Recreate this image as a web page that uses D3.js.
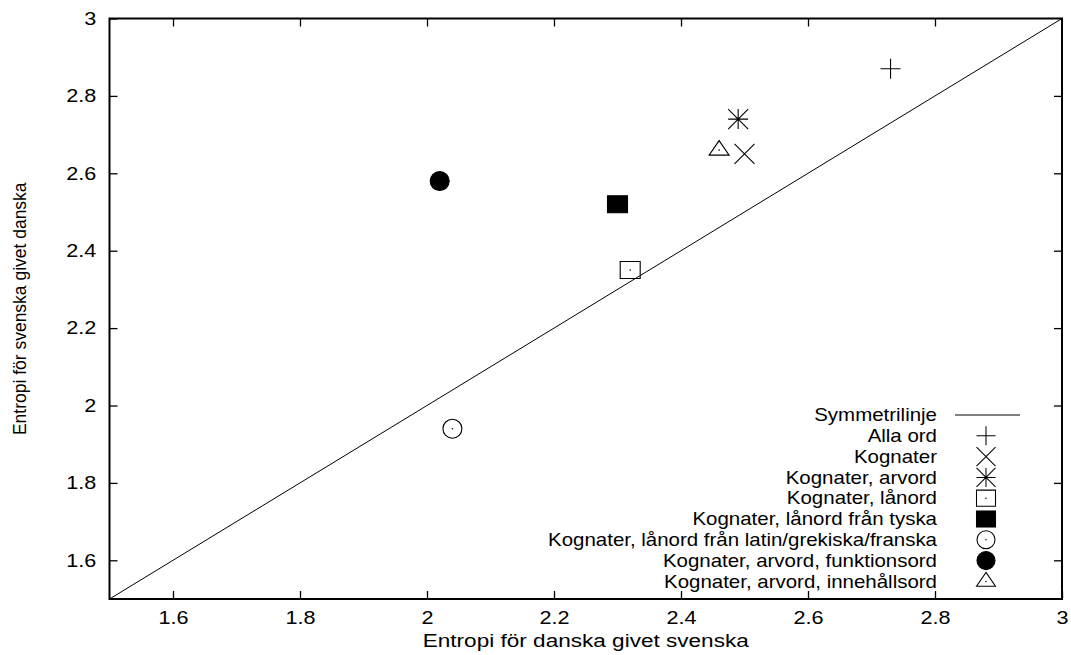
<!DOCTYPE html>
<html>
<head>
<meta charset="utf-8">
<script src="https://cdn.jsdelivr.net/npm/d3@7"></script>
<style>
  body { margin: 0; background: #fff; }
  text { font-family: "Liberation Sans", Arial, sans-serif; fill: #000; }
</style>
</head>
<body>
<div id="main"></div>
<script>
// data
var seriesNames = ['Alla ord', 'Kognater', 'Kognater, arvord', 'Kognater, lånord',
    'Kognater, lånord från tyska', 'Kognater, lånord från latin/grekiska/franska',
    'Kognater, arvord, funktionsord', 'Kognater, arvord, innehållsord'];
var xValues = [2.73, 2.50, 2.49, 2.32, 2.30, 2.04, 2.02, 2.46];
var yValues = [2.87, 2.65, 2.74, 2.35, 2.52, 1.94, 2.58, 2.66];
var markers = ['plus', 'times', 'star', 'square', 'squareFilled', 'circle', 'circleFilled', 'triangle'];
var tickValues = [1.6, 1.8, 2, 2.2, 2.4, 2.6, 2.8, 3];

var width = 1071, height = 655;
var margin = {left: 109.5, right: 9, top: 18.5, bottom: 56};
var stretch = 1.2; // the original text is a bit wider than it is tall

var svg = d3.select('#main').append('svg').attr('width', width).attr('height', height);

var x = d3.scaleLinear().domain([1.5, 3]).range([margin.left, width - margin.right]);
var y = d3.scaleLinear().domain([1.5, 3]).range([height - margin.bottom, margin.top]);

// symmetry line
svg.append('line')
    .attr('x1', x(1.5)).attr('y1', y(1.5))
    .attr('x2', x(3)).attr('y2', y(3))
    .attr('stroke', '#000').attr('stroke-width', 1);

// ticks, mirrored on all sides, pointing inward
var tl = 8;
svg.append('g').attr('transform', 'translate(0,' + y(1.5) + ')')
    .call(d3.axisBottom(x).tickValues(tickValues).tickSizeInner(-tl).tickSizeOuter(0).tickPadding(12).tickFormat(d3.format('')))
    .call(g => g.select('.domain').remove())
    .call(g => g.selectAll('text').attr('font-size', 18).attr('transform', 'scale(' + stretch + ',1)'));
svg.append('g').attr('transform', 'translate(0,' + y(3) + ')')
    .call(d3.axisTop(x).tickValues(tickValues.slice(0, -1)).tickSizeInner(-tl).tickSizeOuter(0).tickFormat(''))
    .call(g => g.select('.domain').remove());
svg.append('g').attr('transform', 'translate(' + x(1.5) + ',0)')
    .call(d3.axisLeft(y).tickValues(tickValues).tickSizeInner(-tl).tickSizeOuter(0).tickPadding(11).tickFormat(d3.format('')))
    .call(g => g.select('.domain').remove())
    .call(g => g.selectAll('text').attr('font-size', 18).attr('transform', 'scale(' + stretch + ',1)'));
svg.append('g').attr('transform', 'translate(' + x(3) + ',0)')
    .call(d3.axisRight(y).tickValues(tickValues.slice(0, -1)).tickSizeInner(-tl).tickSizeOuter(0).tickFormat(''))
    .call(g => g.select('.domain').remove());
svg.selectAll('.tick line').attr('stroke-width', 1.3);

// frame
svg.append('rect')
    .attr('x', x(1.5)).attr('y', y(3))
    .attr('width', x(3) - x(1.5)).attr('height', y(1.5) - y(3))
    .attr('fill', 'none').attr('stroke', '#000').attr('stroke-width', 2);

// axis titles
svg.append('text')
    .attr('transform', 'translate(' + ((x(1.5) + x(3)) / 2) + ',647) scale(1.22,1)')
    .attr('text-anchor', 'middle').attr('font-size', 18.5)
    .text('Entropi för danska givet svenska');
svg.append('text')
    .attr('transform', 'translate(26,' + ((y(1.5) + y(3)) / 2) + ') rotate(-90) scale(1,1.1)')
    .attr('text-anchor', 'middle').attr('font-size', 17.5)
    .text('Entropi för svenska givet danska');

// marker shapes
var r = 10;
function markerPath(type) {
    var p = d3.path();
    if (type === 'plus') {
        p.moveTo(-r, 0); p.lineTo(r, 0); p.moveTo(0, -r); p.lineTo(0, r);
    } else if (type === 'times') {
        p.moveTo(-r, -r); p.lineTo(r, r); p.moveTo(-r, r); p.lineTo(r, -r);
    } else if (type === 'star') {
        p.moveTo(-r, 0); p.lineTo(r, 0); p.moveTo(0, -r); p.lineTo(0, r);
        p.moveTo(-r, -r); p.lineTo(r, r); p.moveTo(-r, r); p.lineTo(r, -r);
    } else if (type === 'square' || type === 'squareFilled') {
        p.rect(-r, -r * 0.85, 2 * r, 1.7 * r);
    } else if (type === 'circle' || type === 'circleFilled') {
        p.arc(0, 0, r * 0.95, 0, 2 * Math.PI);
    } else if (type === 'triangle') {
        p.moveTo(0, -r * 0.95); p.lineTo(r, r * 0.5); p.lineTo(-r, r * 0.5); p.closePath();
    }
    return p.toString();
}
function drawMarker(g, type) {
    var filled = type === 'squareFilled' || type === 'circleFilled';
    g.append('path').attr('d', markerPath(type))
        .attr('fill', filled ? '#000' : 'none')
        .attr('stroke', '#000').attr('stroke-width', 1.1);
    if (type === 'square' || type === 'circle' || type === 'triangle' || type === 'star') {
        g.append('circle').attr('r', 0.8).attr('fill', '#000');
    }
}

var pts = svg.append('g').selectAll('g')
    .data(d3.range(seriesNames.length))
    .enter().append('g')
    .attr('transform', i => 'translate(' + x(xValues[i]) + ',' + y(yValues[i]) + ')');
pts.each(function (i) { drawMarker(d3.select(this), markers[i]); });

// legend
var lgX = 937, lgY = 415, lgStep = 20.8, lgStretch = 1.17;
var legend = svg.append('g');
legend.append('text')
    .attr('transform', 'translate(' + lgX + ',' + lgY + ') scale(' + lgStretch + ',1)')
    .attr('dy', '0.35em')
    .attr('text-anchor', 'end').attr('font-size', 17.5).text('Symmetrilinje');
legend.append('line').attr('x1', 955).attr('x2', 1020).attr('y1', lgY).attr('y2', lgY)
    .attr('stroke', '#000').attr('stroke-width', 1);
var items = legend.selectAll('g.item')
    .data(d3.range(seriesNames.length))
    .enter().append('g').attr('class', 'item')
    .attr('transform', i => 'translate(0,' + (lgY + (i + 1) * lgStep) + ')');
items.append('text')
    .attr('transform', 'translate(' + lgX + ',0) scale(' + lgStretch + ',1)')
    .attr('dy', '0.35em')
    .attr('text-anchor', 'end').attr('font-size', 17.5)
    .text(i => seriesNames[i]);
items.each(function (i) {
    var g = d3.select(this).append('g').attr('transform', 'translate(986,0) scale(0.95)');
    drawMarker(g, markers[i]);
});
</script>
</body>
</html>
